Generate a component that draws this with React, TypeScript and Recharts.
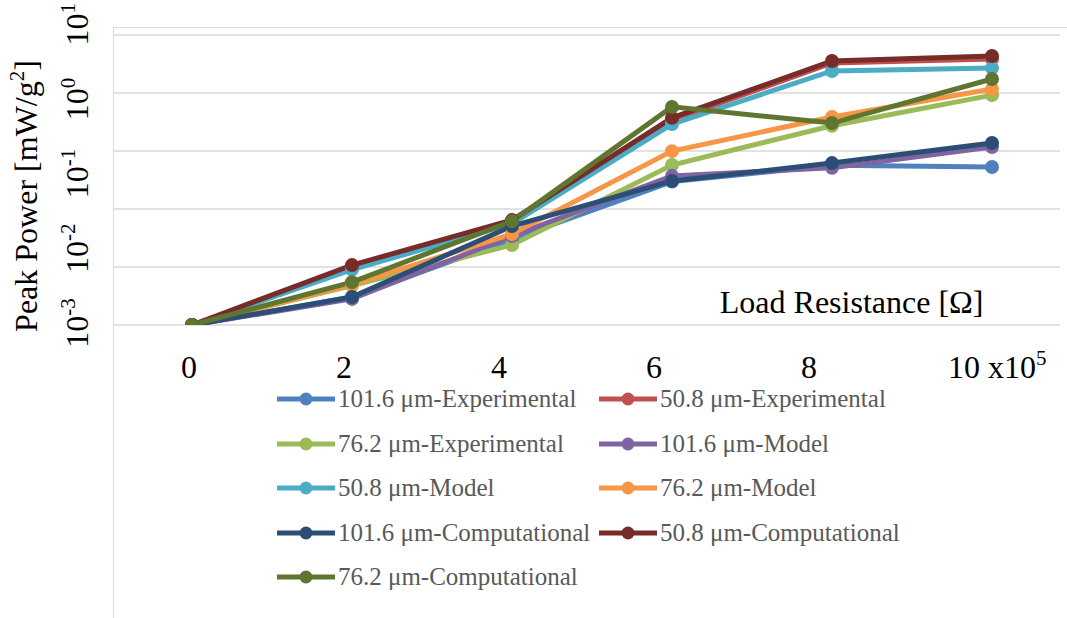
import { Label, Line, LineChart, ReferenceLine, XAxis, YAxis } from 'recharts'

const SERIF = "'Liberation Serif', 'Times New Roman', serif"
const GRID = '#d9d9d9'

// load resistance, in units of 10^5 Ω
const resistance = [0, 2, 4, 6, 8, 10]

// peak power [mW/g^2]
const exp1016 = [0.001, 0.00243, 0.0153, 0.095, 0.16, 0.151]
const exp508 = [0.001, 0.0061, 0.026, 0.67, 4.11, 4.68]
const exp762 = [0.001, 0.0035, 0.0127, 0.161, 0.56, 1.48]
const model1016 = [0.001, 0.00229, 0.0169, 0.114, 0.147, 0.285]
const model508 = [0.001, 0.0058, 0.025, 0.59, 3.19, 3.51]
const model762 = [0.001, 0.0036, 0.018, 0.25, 0.74, 1.8]
const comp1016 = [0.001, 0.00243, 0.0232, 0.097, 0.171, 0.324]
const comp508 = [0.001, 0.0067, 0.028, 0.72, 4.38, 5.13]
const comp762 = [0.001, 0.0039, 0.027, 1.02, 0.61, 2.47]

const xTicks = [0, 2, 4, 6, 8, 10]
const yExponents = [-3, -2, -1, 0, 1]
const gridValues = [1e-3, 10 ** -2.2, 10 ** -1.4, 10 ** -0.6, 10 ** 0.2, 10]

const series = [
  { key: 'exp1016', label: '101.6 μm-Experimental', color: '#4f81bd', values: exp1016 },
  { key: 'exp508', label: '50.8 μm-Experimental', color: '#c0504d', values: exp508 },
  { key: 'exp762', label: '76.2 μm-Experimental', color: '#9bbb59', values: exp762 },
  { key: 'model1016', label: '101.6 μm-Model', color: '#8064a2', values: model1016 },
  { key: 'model508', label: '50.8 μm-Model', color: '#4bacc6', values: model508 },
  { key: 'model762', label: '76.2 μm-Model', color: '#f79646', values: model762 },
  { key: 'comp1016', label: '101.6 μm-Computational', color: '#2c4d75', values: comp1016 },
  { key: 'comp508', label: '50.8 μm-Computational', color: '#772c2a', values: comp508 },
  { key: 'comp762', label: '76.2 μm-Computational', color: '#5f7530', values: comp762 },
]

const data = resistance.map((r, i) => {
  const row: Record<string, number> = { r }
  series.forEach((s) => {
    row[s.key] = s.values[i]
  })
  return row
})

function XTick({ x, y, payload }: any) {
  const last = payload.value === xTicks[xTicks.length - 1]
  return (
    <text
      x={last ? x - 16 : x}
      y={y + 53}
      textAnchor={last ? 'start' : 'middle'}
      fontSize={32}
      fontFamily={SERIF}
      fill="#000"
    >
      {payload.value}
      {last && (
        <>
          {' x10'}
          <tspan dy={-13} fontSize={21}>5</tspan>
        </>
      )}
    </text>
  )
}

function YTick({ x, y, payload }: any) {
  const bx = x - 25
  return (
    <text
      x={bx}
      y={y}
      transform={`rotate(-90 ${bx} ${y})`}
      textAnchor="middle"
      fontSize={32}
      fontFamily={SERIF}
      fill="#000"
    >
      10<tspan dy={-13} fontSize={21}>{payload.value}</tspan>
    </text>
  )
}

function YTitle({ viewBox }: any) {
  const bx = viewBox.x + 37
  const cy = viewBox.y + viewBox.height / 2 + 16
  return (
    <text
      x={bx}
      y={cy}
      transform={`rotate(-90 ${bx} ${cy})`}
      textAnchor="middle"
      fontSize={32}
      fontFamily={SERIF}
      fill="#000"
    >
      Peak Power [mW/g<tspan dy={-13} fontSize={21}>2</tspan>
      <tspan dy={13}>]</tspan>
    </text>
  )
}

function XTitle({ viewBox }: any) {
  return (
    <text
      x={viewBox.x + viewBox.width * 0.78}
      y={viewBox.y - 12}
      textAnchor="middle"
      fontSize={32}
      fontFamily={SERIF}
      fill="#000"
    >
      Load Resistance [Ω]
    </text>
  )
}

function LegendBox() {
  return (
    <div
      style={{
        position: 'absolute',
        left: 277,
        top: 377,
        display: 'grid',
        gridTemplateColumns: '322px 322px',
        gridAutoRows: '44.5px',
        fontFamily: SERIF,
        fontSize: 25,
        color: '#595959',
      }}
    >
      {series.map((s) => (
        <div key={s.key} style={{ display: 'flex', alignItems: 'center', whiteSpace: 'nowrap' }}>
          <svg width={58} height={16} style={{ marginRight: 3 }}>
            <line x1={0} y1={8} x2={58} y2={8} stroke={s.color} strokeWidth={5} />
            <circle cx={29} cy={8} r={6.5} fill={s.color} />
          </svg>
          {s.label}
        </div>
      ))}
    </div>
  )
}

export default function App() {
  return (
    <div style={{ position: 'relative', width: 1067, height: 618, background: '#fff' }}>
      <style>{'body { margin: 0; }'}</style>
      <div
        style={{
          position: 'absolute',
          left: 113,
          top: 27,
          right: 0,
          bottom: 0,
          borderTop: `1.5px solid ${GRID}`,
          borderLeft: `1.5px solid ${GRID}`,
        }}
      />
      <LineChart
        width={1067}
        height={618}
        data={data}
        margin={{ top: 35, right: 7, bottom: 233, left: 0 }}
      >
        <XAxis
          xAxisId="pts"
          dataKey="r"
          type="number"
          domain={[-0.9875, 10.85]}
          allowDataOverflow
          hide
        />
        {/* tick labels sit on their own, slightly tighter spacing */}
        <XAxis
          xAxisId="lbl"
          dataKey="r"
          type="number"
          domain={[-0.98, 11.24]}
          allowDataOverflow
          ticks={xTicks}
          interval={0}
          height={60}
          axisLine={false}
          tickLine={false}
          tickSize={0}
          tickMargin={0}
          tick={<XTick />}
          label={<Label content={<XTitle />} />}
        />
        <YAxis
          yAxisId="p"
          type="number"
          scale="log"
          domain={[0.001, 10]}
          allowDataOverflow
          hide
        />
        <YAxis
          yAxisId="lbl"
          type="number"
          domain={[-3.026, 0.855]}
          allowDataOverflow
          ticks={yExponents}
          interval={0}
          width={113}
          axisLine={false}
          tickLine={false}
          tickSize={0}
          tickMargin={0}
          tick={<YTick />}
          label={<Label content={<YTitle />} />}
        />
        {gridValues.map((v) => (
          <ReferenceLine
            key={v}
            xAxisId="pts"
            yAxisId="p"
            y={v}
            stroke={GRID}
            strokeWidth={1.5}
          />
        ))}
        {series.map((s) => (
          <Line
            key={s.key}
            xAxisId="pts"
            yAxisId="p"
            type="linear"
            dataKey={s.key}
            name={s.label}
            stroke={s.color}
            strokeWidth={5}
            dot={{ r: 6, fill: s.color, stroke: s.color, strokeWidth: 2 }}
            activeDot={false}
            isAnimationActive={false}
          />
        ))}
      </LineChart>
      <LegendBox />
    </div>
  )
}
